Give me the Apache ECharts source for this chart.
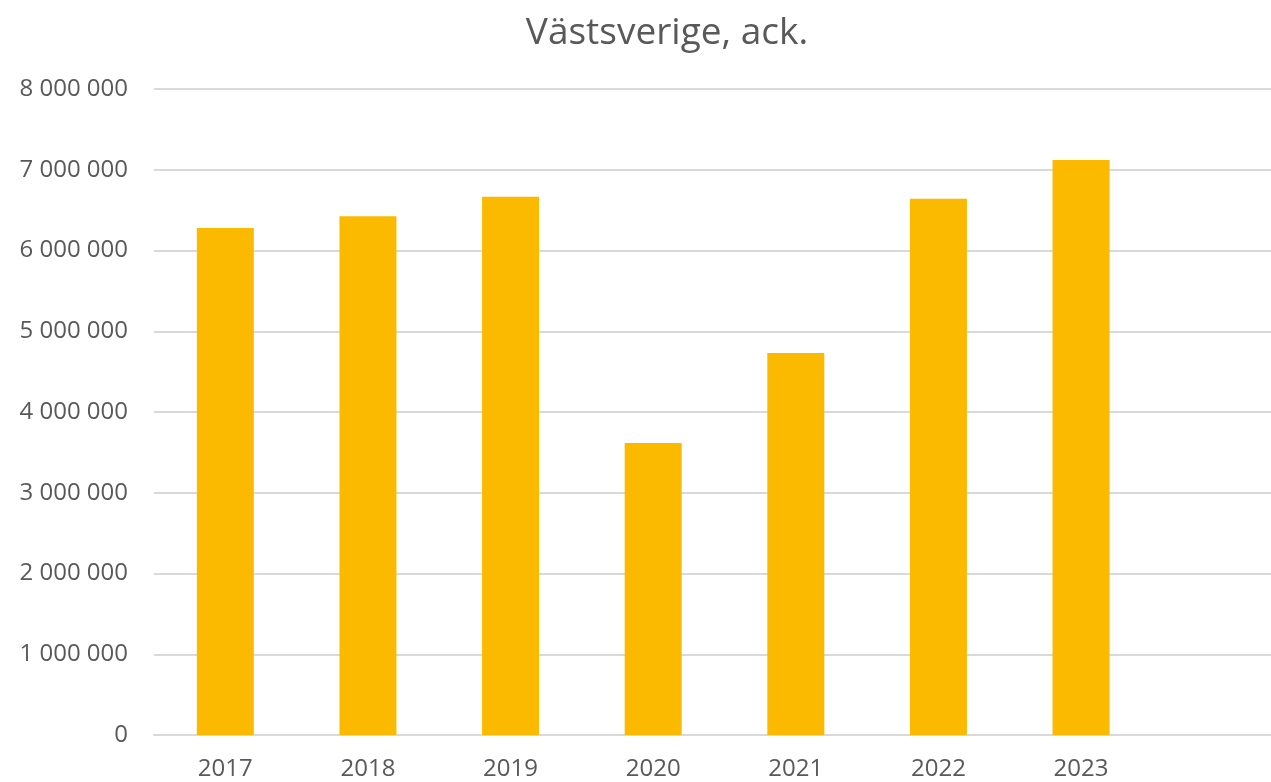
<!DOCTYPE html>
<html>
<head>
<meta charset="utf-8">
<script src="https://cdn.jsdelivr.net/npm/echarts@6/dist/echarts.min.js"></script>
<style>
html,body{margin:0;padding:0;background:#fff;overflow:hidden;width:1271px;height:782px;}
#c{width:1300px;height:782px;}
</style>
</head>
<body>
<div id="c"></div>
<script>
const categories = ['2017','2018','2019','2020','2021','2022','2023',''];
const values = [6280000, 6425000, 6665000, 3615000, 4730000, 6640000, 7120000, null];
const titleText = 'Västsverige, ack.';

function fmt(v){
  return String(Math.round(v)).replace(/\B(?=(\d{3})+(?!\d))/g,' ');
}

const chart = echarts.init(document.getElementById('c'), null, {renderer:'canvas'});
chart.setOption({
  animation:false,
  backgroundColor:'#fff',
  textStyle:{fontFamily:'"Open Sans", sans-serif'},
  title:{
    text:titleText,
    left:662, top:10, textAlign:'center',
    textStyle:{fontFamily:'"Open Sans", sans-serif', fontSize:37, fontWeight:'normal', color:'#595959'}
  },
  grid:{left:154, top:89, width:1141, height:646, containLabel:false},
  xAxis:{
    type:'category',
    data:categories,
    axisLine:{lineStyle:{color:'#d9d9d9', width:2}},
    axisTick:{show:false},
    axisLabel:{color:'#595959', fontSize:24, margin:22, fontFamily:'"Open Sans", sans-serif'}
  },
  yAxis:{
    type:'value',
    min:0, max:8000000, interval:1000000,
    axisLine:{show:false},
    axisTick:{show:false},
    splitLine:{lineStyle:{color:'#d9d9d9', width:2}},
    axisLabel:{color:'#595959', fontSize:24, margin:26, formatter:fmt, fontFamily:'"Open Sans", sans-serif'}
  },
  series:[{
    type:'bar',
    data:values,
    barWidth:57,
    itemStyle:{color:'#fbba00'}
  }]
});
</script>
</body>
</html>
